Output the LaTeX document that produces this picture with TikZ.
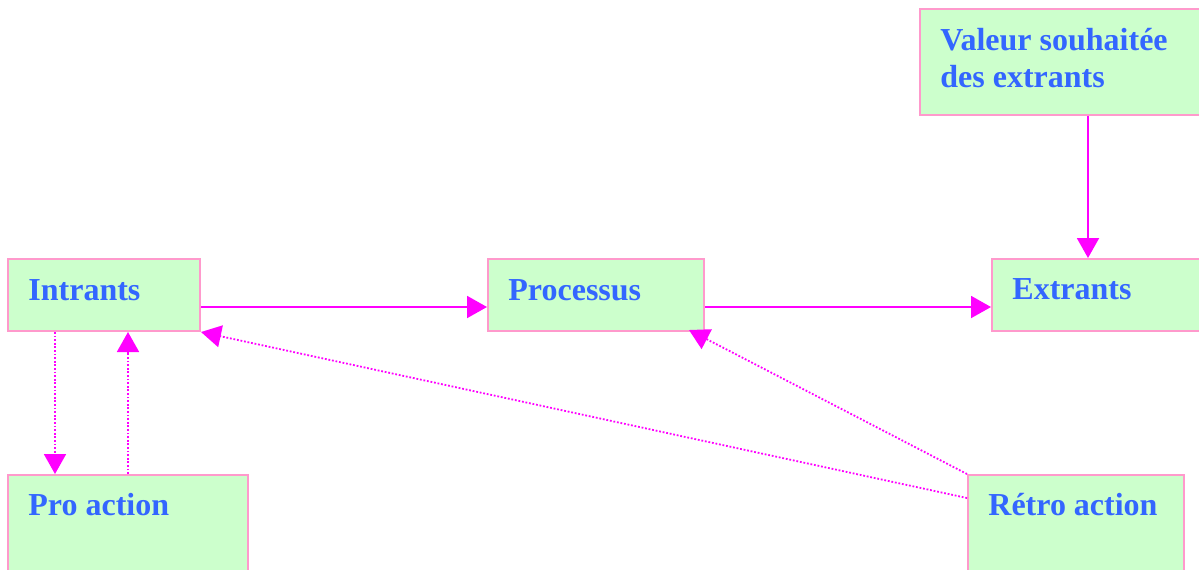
\documentclass[tikz,border=0pt]{standalone}
\usepackage{fontspec}
\setmainfont{Liberation Serif}
\usetikzlibrary{arrows.meta}

\definecolor{vertclair}{RGB}{204,255,204}
\definecolor{rosebord}{RGB}{255,153,204}
\definecolor{magentavif}{RGB}{255,0,255}
\definecolor{bleutexte}{RGB}{51,102,255}

\tikzset{
  boite/.style={draw=rosebord, line width=1pt, fill=vertclair, inner sep=0pt, anchor=north west},
  titre/.style={anchor=base west, inner sep=0pt, text=bleutexte,
    font=\fontsize{16}{18.5}\selectfont\bfseries, align=left},
  fleche/.style={draw=magentavif, line width=1pt, -{Triangle[length=10pt,width=11pt]}},
  retour/.style={fleche, line width=0.9pt, dash pattern=on 0.9pt off 0.9pt},
}

\begin{document}
\begin{tikzpicture}[x=0.5pt, y=-0.5pt]
\useasboundingbox (0,0) rectangle (1199,569);
\clip (0,0) rectangle (1199,569);

% boites
\node[boite, minimum width=96pt, minimum height=36pt] (intr) at (7,258) {};
\node[boite, minimum width=108pt, minimum height=36pt] (proc) at (487,258) {};
\node[boite, minimum width=108pt, minimum height=36pt] (extr) at (991,258) {};
\node[boite, minimum width=168pt, minimum height=53pt] (val) at (919,8) {};
\node[boite, minimum width=120pt, minimum height=50pt] (pro) at (7,474) {};
\node[boite, minimum width=108pt, minimum height=50pt] (retro) at (967,474) {};

% textes (base = derniere ligne)
\node[titre] (tintr) at ([shift={(21,42)}]intr.north west) {Intrants};
\node[titre] (tproc) at ([shift={(21,42)}]proc.north west) {Processus};
\node[titre] (textr) at ([shift={(21,41)}]extr.north west) {Extrants};
\node[titre] (tval) at ([shift={(21,79)}]val.north west) {Valeur souhaitée\\des extrants};
\node[titre] (tpro) at ([shift={(21,41)}]pro.north west) {Pro action};
\node[titre] (tretro) at ([shift={(21,41)}]retro.north west) {Rétro action};

% fleches
\draw[fleche] ([yshift=-6pt]intr.east) -- ([yshift=-6pt]proc.west);
\draw[fleche] ([yshift=-6pt]proc.east) -- ([yshift=-6pt]extr.west);
\draw[fleche] (val.south) -- (val.south |- extr.north);

\coordinate (depart) at ([xshift=24pt]intr.south west);
\coordinate (bas) at ([yshift=-12pt]retro.north west);
\coordinate (cible) at ([shift={(-8pt,1pt)}]proc.south east);
\draw[retour] (depart) -- (depart |- pro.north);
\draw[retour] (pro.north) -- (pro.north |- intr.south);
\draw[retour] (bas) -- (intr.south east);
\draw[retour] (retro.north west) -- (cible);
\end{tikzpicture}
\end{document}
